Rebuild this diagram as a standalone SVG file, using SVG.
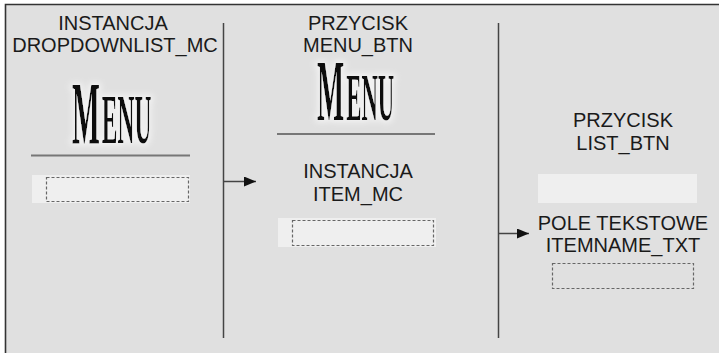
<svg xmlns="http://www.w3.org/2000/svg" width="719" height="353" viewBox="0 0 719 353">
<defs>
<style>
.lbl{font-family:"Liberation Sans",Arial,sans-serif;font-size:20px;fill:#1a1a1a;text-anchor:middle}
.menu{font-family:"Liberation Serif","Times New Roman",serif;fill:#111;font-weight:bold}
.light{fill:#efefef}
.dash{fill:#efefef;stroke:#666;stroke-width:1.2;stroke-dasharray:3 2}
.rule{stroke:#777;stroke-width:1.8}
.conn{stroke:#444;stroke-width:1.5;fill:none}
</style>
<marker id="ah" markerWidth="12" markerHeight="10" refX="12" refY="5" orient="auto" markerUnits="userSpaceOnUse">
<path d="M0,0 L12,5 L0,10 Z" fill="#111"/>
</marker>
<filter id="glow" x="-20%" y="-20%" width="140%" height="140%">
<feMorphology in="SourceAlpha" operator="dilate" radius="2" result="d"/>
<feGaussianBlur in="d" stdDeviation="3" result="b"/>
<feFlood flood-color="#f4f4f4"/>
<feComposite in2="b" operator="in" result="g"/>
<feMerge><feMergeNode in="g"/><feMergeNode in="SourceGraphic"/></feMerge>
</filter>
</defs>
<rect x="0" y="0" width="719" height="353" fill="#ffffff"/>
<rect x="5" y="4" width="714" height="349" fill="#e0e0e0"/>
<path d="M5.5,353 V4.5 H719" stroke="#333" stroke-width="1.6" fill="none"/>

<g id="dropdownlist_mc">
<text class="lbl" x="113" y="30">INSTANCJA</text>
<text class="lbl" x="115" y="52">DROPDOWNLIST_MC</text>
<g filter="url(#glow)">
<text class="menu" transform="translate(72,143) scale(0.335,1)" font-size="88">M<tspan font-size="70" dx="6">ENU</tspan></text>
</g>
<line class="rule" x1="31" y1="155.5" x2="190" y2="155.5"/>
<rect class="light" x="32" y="175" width="158" height="28"/>
<rect class="dash" x="46.5" y="177.5" width="142" height="24"/>
</g>

<g id="menu_btn">
<text class="lbl" x="358" y="30">PRZYCISK</text>
<text class="lbl" x="358" y="52">MENU_BTN</text>
<g filter="url(#glow)">
<text class="menu" transform="translate(317,120) scale(0.335,1)" font-size="86">M<tspan font-size="68" dx="6">ENU</tspan></text>
</g>
<line class="rule" x1="277" y1="134" x2="435" y2="134"/>
</g>

<g id="item_mc">
<text class="lbl" x="358" y="178">INSTANCJA</text>
<text class="lbl" x="358" y="201">ITEM_MC</text>
<rect class="light" x="278" y="218" width="158" height="29"/>
<rect class="dash" x="292.5" y="220.5" width="141" height="25"/>
</g>

<g id="list_btn">
<text class="lbl" x="623" y="127">PRZYCISK</text>
<text class="lbl" x="623" y="150">LIST_BTN</text>
<rect class="light" x="538" y="174" width="159" height="29"/>
</g>

<g id="itemname_txt">
<text class="lbl" x="623" y="230">POLE TEKSTOWE</text>
<text class="lbl" x="623" y="252">ITEMNAME_TXT</text>
<rect x="552.5" y="263.5" width="141" height="25" fill="none" stroke="#666" stroke-width="1.2" stroke-dasharray="3 2"/>
</g>

<g id="connectors">
<line class="conn" x1="223.5" y1="23" x2="223.5" y2="338"/>
<line class="conn" x1="498.5" y1="23" x2="498.5" y2="338"/>
<line class="conn" x1="223.5" y1="181.5" x2="256" y2="181.5" marker-end="url(#ah)"/>
<line class="conn" x1="498.5" y1="233.5" x2="529" y2="233.5" marker-end="url(#ah)"/>
</g>
</svg>
